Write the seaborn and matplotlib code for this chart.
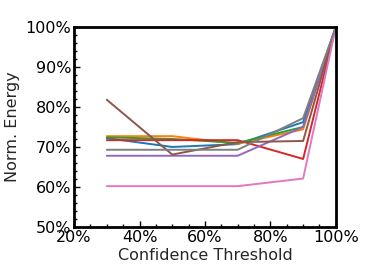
import seaborn as sns
import matplotlib.pyplot as plt
import pandas as pd
from matplotlib.ticker import PercentFormatter, AutoMinorLocator

# confidence thresholds
thresholds = [0.3, 0.5, 0.7, 0.9, 1.0]

# normalized energy per model
s_blue = [0.722, 0.700, 0.707, 0.762, 1.0]
s_orange = [0.727, 0.727, 0.708, 0.744, 1.0]
s_green = [0.724, 0.720, 0.710, 0.750, 1.0]
s_red = [0.717, 0.717, 0.717, 0.670, 1.0]
s_purple = [0.678, 0.678, 0.678, 0.750, 1.0]
s_brown = [0.818, 0.681, 0.712, 0.715, 1.0]
s_pink = [0.602, 0.602, 0.602, 0.621, 1.0]
s_gray = [0.693, 0.693, 0.693, 0.772, 1.0]

series = [s_blue, s_orange, s_green, s_red, s_purple, s_brown, s_pink, s_gray]

rows = []
for i, s in enumerate(series):
    for x, y in zip(thresholds, s):
        rows.append({"model": i, "threshold": x, "energy": y})
df = pd.DataFrame(rows)

sns.set_style("ticks")
fig, ax = plt.subplots(figsize=(3.74, 2.67), dpi=100)
sns.lineplot(data=df, x="threshold", y="energy", hue="model",
             palette="tab10", legend=False, linewidth=1.4, ax=ax)

ax.set_xlim(0.2, 1.0)
ax.set_ylim(0.5, 1.0)
ax.set_xticks([0.2, 0.4, 0.6, 0.8, 1.0])
ax.set_yticks([0.5, 0.6, 0.7, 0.8, 0.9, 1.0])
ax.xaxis.set_major_formatter(PercentFormatter(1.0, decimals=0))
ax.yaxis.set_major_formatter(PercentFormatter(1.0, decimals=0))
ax.xaxis.set_minor_locator(AutoMinorLocator())
ax.yaxis.set_minor_locator(AutoMinorLocator())
ax.tick_params(which="both", direction="in", labelsize=11.5, colors="black", pad=2)
ax.tick_params(which="major", length=4, width=1)
ax.tick_params(which="minor", length=2, width=1)
for sp in ax.spines.values():
    sp.set_linewidth(2)
    sp.set_color("black")
ax.set_xlabel("Confidence Threshold", fontsize=11.5, labelpad=2)
ax.set_ylabel("Norm. Energy", fontsize=11.5)

fig.subplots_adjust(left=0.198, right=0.898, bottom=0.15, top=0.899)
fig.savefig("out.png")
